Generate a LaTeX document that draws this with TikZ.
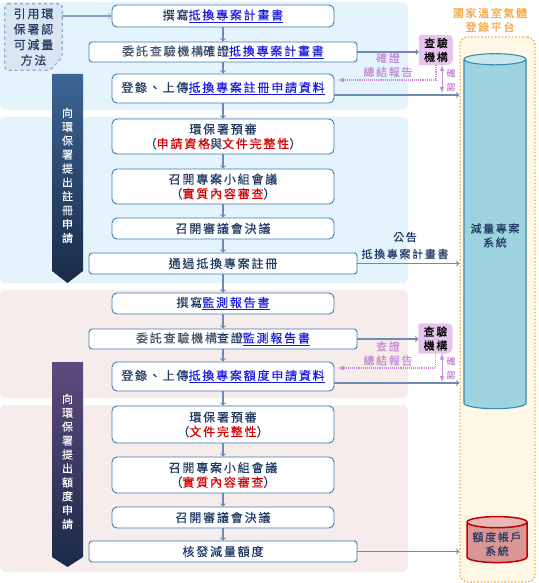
\documentclass[tikz,border=0pt]{standalone}
\usepackage{fontspec}
\setmainfont[LetterSpace=15,UprightFeatures={FakeBold=0.2}]{Noto Sans CJK TC}
\usetikzlibrary{shapes.geometric}
\definecolor{navy}{HTML}{1F3864}
\definecolor{slate}{HTML}{44546A}
\definecolor{boxc}{HTML}{3B7DB5}
\definecolor{arrc}{HTML}{6F88B6}
\definecolor{arrlight}{HTML}{8AA0C8}
\definecolor{lnkc}{HTML}{1A1AE0}
\definecolor{redc}{HTML}{D00000}
\definecolor{panelblue}{HTML}{E5F3FC}
\definecolor{panelpink}{HTML}{F6ECEC}
\definecolor{inspc}{HTML}{E6C4EC}
\definecolor{purp}{HTML}{C48CD4}
\definecolor{orng}{HTML}{F2A640}
\definecolor{cream}{HTML}{FFF8E6}
\definecolor{methline}{HTML}{8EA9CF}
\definecolor{methfill}{HTML}{DBE5F1}
\definecolor{sysline}{HTML}{3A8CAB}
\definecolor{sysbody}{HTML}{9DD3DF}
\definecolor{systop}{HTML}{C8E8F0}
\definecolor{acctline}{HTML}{C00000}
\definecolor{acctbody}{HTML}{D99694}
\definecolor{accttop}{HTML}{E6B8B7}
\definecolor{banbluetop}{HTML}{3C6594}
\definecolor{banpurptop}{HTML}{5E4A7E}
\definecolor{banbottom}{HTML}{1A2A48}
\newcommand\lnk[1]{\textcolor{lnkc}{\underline{#1}}}
\newcommand\hl[1]{\textcolor{redc}{#1}}
\begin{document}
\begin{tikzpicture}[x=1pt,y=-1pt,
  flow/.style={draw=boxc,fill=white,line width=0.9pt,rounded corners=5pt,text=navy,minimum width=222pt,inner sep=0pt,align=center,font=\fontsize{12}{14.5}\selectfont},
  wideflow/.style={flow,minimum width=268pt,rounded corners=3pt},
  flowarr/.style={->,draw=arrc,line width=1.1pt},
  dotarr/.style={-latex,draw=purp,densely dotted,line width=1.1pt},
  confarr/.style={latex-latex,draw=purp,line width=1pt},
  inspbox/.style={minimum width=34pt,minimum height=30pt,inner sep=0pt,align=center,font=\fontsize{11}{14}\selectfont},
  inspfill/.style={fill=inspc},
  replabel/.style={text=purp,align=center,font=\fontsize{11}{14}\selectfont},
  bantext/.style={text=white,align=center,inner sep=0pt,font=\fontsize{11}{13.9}\selectfont},
  methtext/.style={minimum width=57pt,minimum height=66pt,inner sep=0pt,align=center,text=navy,font=\fontsize{12}{15.5}\selectfont}
  ]
\useasboundingbox (0,0) rectangle (538,583);
\fill[panelblue,rounded corners=6pt] (0,2) rectangle (408,110);
\fill[panelblue,rounded corners=6pt] (0,117) rectangle (408,283);
\fill[panelpink,rounded corners=6pt] (0,290) rectangle (408,398);
\fill[panelpink,rounded corners=6pt] (0,405) rectangle (408,572);

\node[draw=orng,dotted,line width=1.4pt,fill=cream,rounded corners=8pt,minimum width=75pt,minimum height=545pt] (plat) at (497.5,309.5) {};
\node[text=orng,align=center,font=\fontsize{11}{14}\selectfont] (plattitle) at (490,20) {國家溫室氣體\\登錄平台};
\node[cylinder,shape border rotate=90,aspect=0.2,draw=sysline,line width=1.1pt,cylinder uses custom fill,cylinder body fill=sysbody,cylinder end fill=systop,minimum width=62pt,minimum height=355pt,align=center,text=navy,font=\fontsize{11}{14}\selectfont] (sys) at (495,235.5) {減量專案\\系統};
\node[cylinder,shape border rotate=90,aspect=0.2,draw=acctline,line width=1.5pt,cylinder uses custom fill,cylinder body fill=acctbody,cylinder end fill=accttop,minimum width=60pt,minimum height=46pt,align=center,text=navy,font=\fontsize{11}{14}\selectfont] (acct) at (497,544) {額度帳戶\\系統};

\node[methtext] (meth) at (33.5,37) {};
\draw[draw=methline,fill=methfill,dashed,line width=1.2pt,rounded corners=3pt] (meth.north west) -- (meth.north east) -- ([yshift=13pt]meth.south east) -- ([xshift=-12pt]meth.south east) -- (meth.south west) -- cycle;
\node[methtext] (methlabel) at (meth) {引用環\\保署認\\可減量\\方法};

\shade[top color=banbluetop,bottom color=banbottom] (52,74) -- (83,74) -- (83,271) -- (67.5,283) -- (52,271) -- cycle;
\node[bantext] (ban1) at (67.5,175.5) {向\\環\\保\\署\\提\\出\\註\\冊\\申\\請};
\shade[top color=banpurptop,bottom color=banbottom] (52,362) -- (83,362) -- (83,557) -- (67.5,567) -- (52,557) -- cycle;
\node[bantext] (ban2) at (67.5,461.5) {向\\環\\保\\署\\提\\出\\額\\度\\申\\請};

\node[flow,minimum height=22pt] (b1) at (223,16) {撰寫\lnk{抵換專案計畫書}};
\node[wideflow,minimum height=20pt] (b2) at (223,52) {\textcolor{slate}{委託查驗機構}確證\lnk{抵換專案計畫書}};
\node[flow,minimum height=29pt] (b3) at (223,88.5) {登錄、上傳\lnk{抵換專案註冊申請資料}};
\node[flow,minimum height=35pt] (b4) at (223,136.5) {環保署預審\\（\hl{申請資格}與\hl{文件完整性}）};
\node[flow,minimum height=35pt] (b5) at (223,186.5) {召開專案小組會議\\（\hl{實質內容審查}）};
\node[flow,minimum height=21pt] (b6) at (223,228.5) {召開審議會決議};
\node[wideflow,minimum height=21pt] (b7) at (223,263.5) {通過抵換專案註冊};
\node[flow,minimum height=21pt] (b8) at (223,303.5) {撰寫\lnk{監測報告書}};
\node[wideflow,minimum height=20pt] (b9) at (223,339) {\textcolor{slate}{委託查驗機構}查證\lnk{監測報告書}};
\node[flow,minimum height=29pt] (b10) at (223,376.5) {登錄、上傳\lnk{抵換專案額度申請資料}};
\node[flow,minimum height=37pt] (b11) at (223,424.5) {環保署預審\\（\hl{文件完整性}）};
\node[flow,minimum height=36pt] (b12) at (223,475) {召開專案小組會議\\（\hl{實質內容審查}）};
\node[flow,minimum height=21pt] (b13) at (223,517.5) {召開審議會決議};
\node[wideflow,minimum height=21pt] (b14) at (223,551.5) {核發減量額度};

\foreach \a/\b in {b1/b2,b2/b3,b3/b4,b4/b5,b5/b6,b6/b7,b7/b8,b8/b9,b9/b10,b10/b11,b11/b12,b12/b13,b13/b14}
  \draw[flowarr] (\a.south) -- (\b.north);
\draw[flowarr,draw=arrlight] (b1.west -| meth.east) -- (b1.west);

\node[inspbox] (insp1) at (436,50) {};
\node[inspbox] (insp2) at (435.5,338.5) {};
\foreach \n in {insp1,insp2}
  \fill[inspfill] (\n.south west) [rounded corners=2pt] -- (\n.north west) -- ([xshift=-3pt]\n.north east) -- ([yshift=-3pt]\n.north east) [rounded corners=7pt] -- (\n.south east) [sharp corners] -- cycle;
\node[inspbox] (insp1label) at (insp1) {查驗\\機構};
\node[inspbox] (insp2label) at (insp2) {查驗\\機構};
\coordinate (rep1) at (338,80);
\coordinate (rep2) at (338,368);
\coordinate (conf1) at (442,93);
\coordinate (conf2) at (442,382);

\draw[flowarr] (b2.east) -- (b2.east -| insp1.west);
\draw[dotarr] (insp1.south) |- (rep1);
\draw[confarr] (conf1 |- insp1.south) -- (conf1);
\node[replabel] (replab1) at (388,65) {確證\\總結報告};
\node[text=purp,align=center,inner sep=0pt,font=\fontsize{9}{14}\selectfont] (cf1) at (451,80) {確\\認};
\draw[flowarr] ([yshift=-6.5pt]b3.east) -- ([yshift=-6.5pt]b3.east -| plat.west);

\draw[flowarr] (b7.east) -- (b7.east -| plat.west);
\node[align=center,text=navy,font=\fontsize{11}{17}\selectfont] (notice) at (405,245.5) {公告\\抵換專案計畫書};

\draw[flowarr] (b9.east) -- (b9.east -| insp2.west);
\draw[dotarr] (insp2.south) |- (rep2);
\draw[confarr] (conf2 |- insp2.south) -- (conf2);
\node[replabel] (replab2) at (388,353.5) {查證\\總結報告};
\node[text=purp,align=center,inner sep=0pt,font=\fontsize{9}{14}\selectfont] (cf2) at (451,368) {確\\認};
\draw[flowarr] ([yshift=-6.5pt]b10.east) -- ([yshift=-6.5pt]b10.east -| plat.west);

\draw[flowarr] (b14.east) -- (b14.east -| plat.west);
\end{tikzpicture}
\end{document}
